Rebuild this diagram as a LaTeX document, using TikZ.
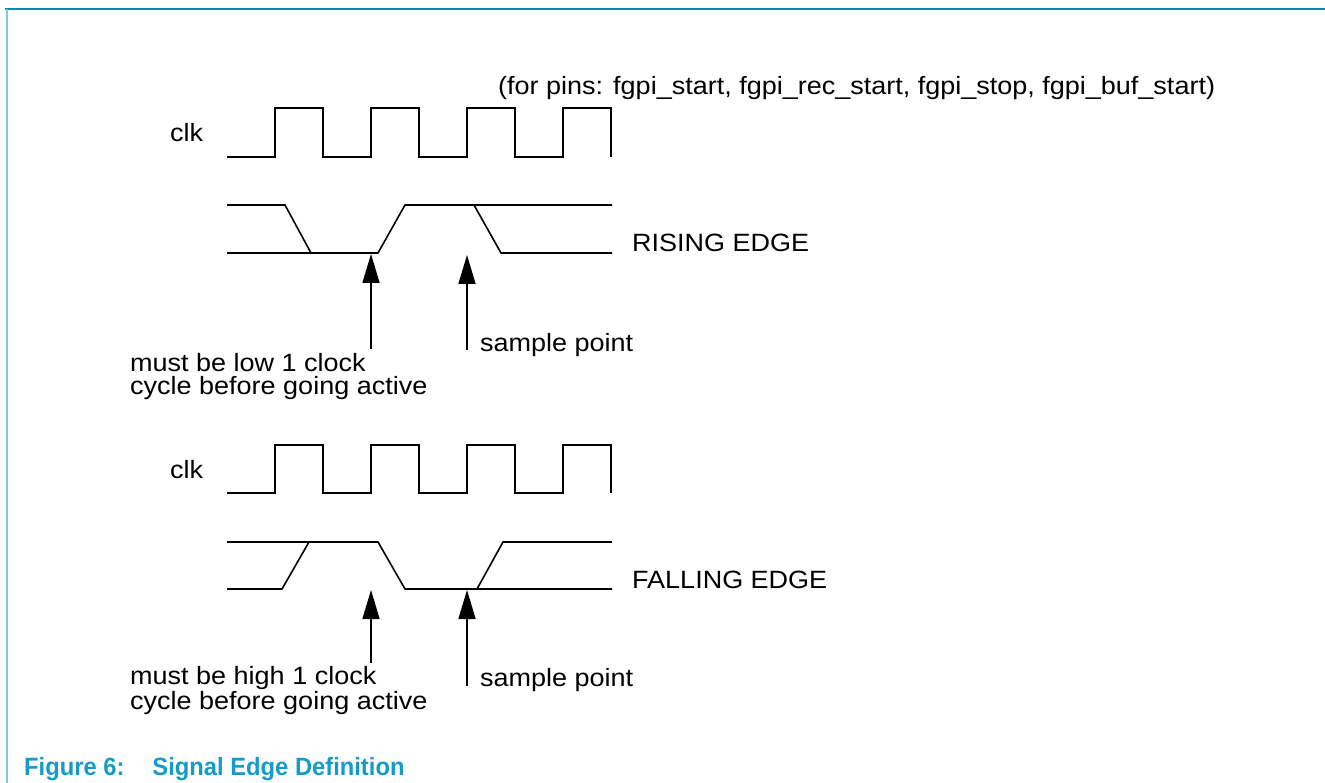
\documentclass[tikz,border=0pt]{standalone}
\usepackage{fontspec}
\setmainfont{Liberation Sans}[FakeStretch=1.08]
\newfontfamily\captionfont{Liberation Sans}[FakeStretch=0.95]
\usepackage{tikz}
\usetikzlibrary{arrows.meta, positioning}
\definecolor{framedark}{RGB}{0, 140, 175}
\definecolor{framelight}{RGB}{130, 200, 222}
\definecolor{captioncol}{RGB}{20, 155, 200}
\newcommand{\sigfont}{\fontsize{25}{23}\selectfont}
% clock wave: #1 = high level, #2 = low level
\newcommand{\clkwave}[2]{%
  \draw[wave] (227,#2) \foreach \t in {275,371,467,563} {
    -- (\t,#2) -- (\t,#1) -- ({\t+48},#1) -- ({\t+48},#2) };}

\begin{document}
\begin{tikzpicture}[x=1pt, y=-1pt,
    wave/.style={line width=1.6pt, line join=miter},
    pointer/.style={line width=1.6pt, -{Triangle[length=29pt, width=17pt]}},
    lbl/.style={anchor=base west, inner sep=0pt, font=\sigfont, align=left}
  ]
    \useasboundingbox (0,0) rectangle (1325,783);
    % frame
    \draw[framedark, line width=1.5pt] (5,9) -- (1325,9);
    \draw[framelight, line width=2pt] (7,9) -- (7,783);

    \node[lbl] (pins) at (498,95) {(for pins: fgpi\_start, fgpi\_rec\_start, fgpi\_stop, fgpi\_buf\_start)};

    % rising edge
    \node[lbl] (clkup) at (170,142) {clk};
    \clkwave{108}{157}
    \draw[wave] (227,205) -- (285,205) -- (311,253);
    \draw[wave] (227,253) -- (378,253) -- (405,205) -- (612,205);
    \draw[wave] (474,205) -- (501,253) -- (612,253);
    \node[lbl] (rising) at (632,252) {RISING EDGE};

    \coordinate (risetip) at (371,254);
    \coordinate (risefoot) at (371,349);
    \coordinate (rsamptip) at (467,255);
    \coordinate (rsampfoot) at (467,350);
    \draw[pointer] (risefoot) -- (risetip);
    \draw[pointer] (rsampfoot) -- (rsamptip);
    \node[lbl] (lownote) at (130,395) {must be low 1 clock\\cycle before going active};
    \node[lbl] (rsample) at (480,352) {sample point};

    % falling edge
    \node[lbl] (clkdown) at (170,478) {clk};
    \clkwave{445}{493}
    \draw[wave] (227,542) -- (378,542) -- (405,589) -- (612,589);
    \draw[wave] (227,589) -- (282,589) -- (309,542);
    \draw[wave] (477,589) -- (503,542) -- (612,542);
    \node[lbl] (falling) at (632,588) {FALLING EDGE};

    \coordinate (falltip) at (371,590);
    \coordinate (fallfoot) at (371,663);
    \coordinate (fsamptip) at (467,590);
    \coordinate (fsampfoot) at (467,686);
    \draw[pointer] (fallfoot) -- (falltip);
    \draw[pointer] (fsampfoot) -- (fsamptip);
    \node[lbl] (highnote) at (130,709) {must be high 1 clock\\cycle before going active};
    \node[lbl] (fsample) at (480,686) {sample point};

    % caption
    \node[anchor=base west, inner sep=0pt, text=captioncol,
      font=\captionfont\bfseries\fontsize{25}{28}\selectfont] (caption) at (24,775)
      {Figure 6:\hspace{28pt}Signal Edge Definition};
\end{tikzpicture}
\end{document}
